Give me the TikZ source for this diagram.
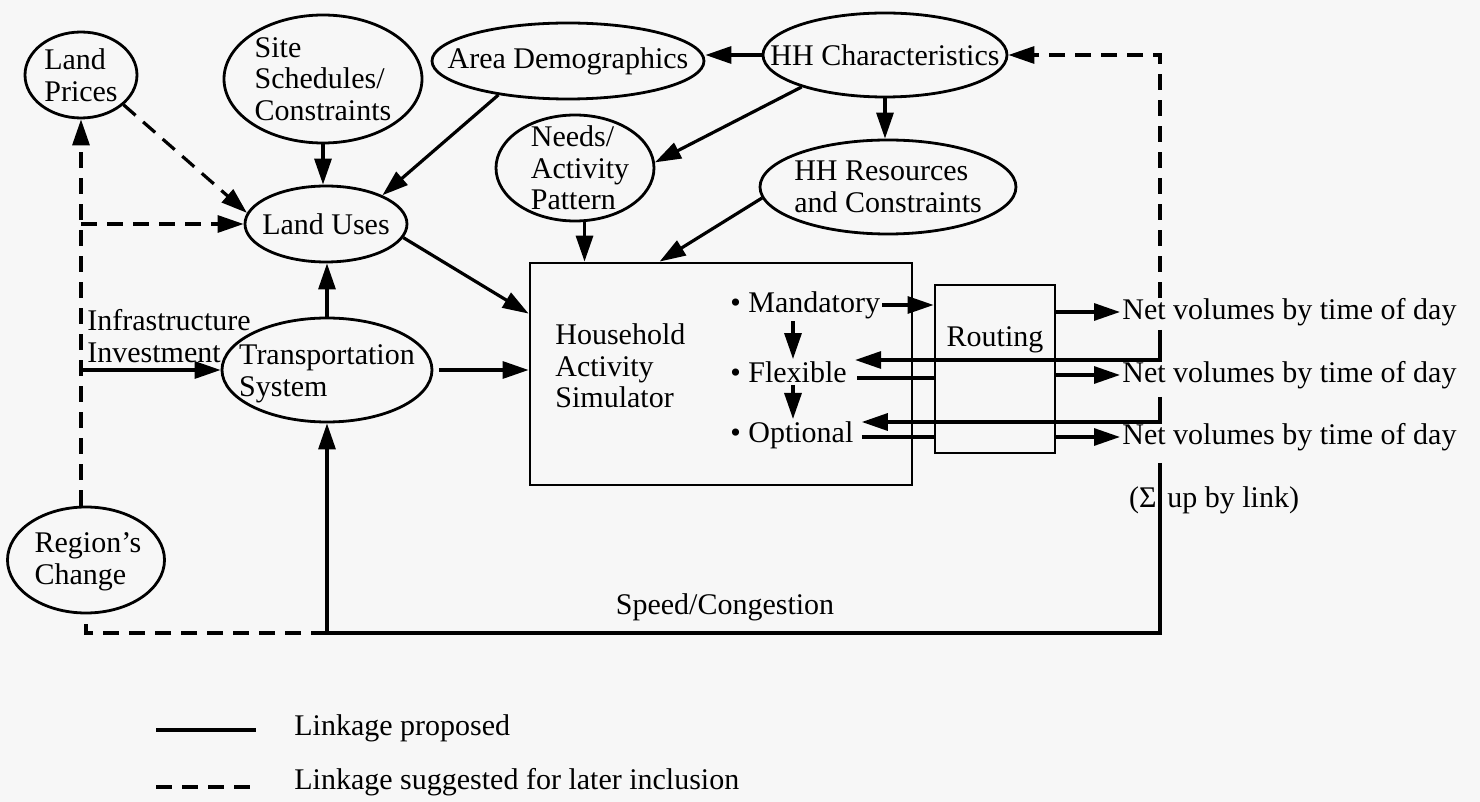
\documentclass[tikz,border=0pt]{standalone}
\usepackage{fontspec}
\setmainfont{Liberation Serif}
\usetikzlibrary{shapes.geometric,arrows.meta,calc}
\definecolor{paper}{RGB}{247,247,247}
\begin{document}
\begin{tikzpicture}[x=0.5pt,y=-0.5pt,
  every node/.style={font=\fontsize{15}{15.8}\selectfont},
  ell/.style={draw, ellipse, line width=1.4pt, inner sep=0pt},
  box/.style={draw, rectangle, line width=1.4pt, inner sep=0pt},
  txt/.style={inner sep=1pt, align=left},
  ln/.style={line width=1.6pt},
  arr/.style={ln, -{Triangle[length=13pt,width=8.5pt]}},
  dsh/.style={dash pattern=on 8pt off 5pt},
]
\fill[paper] (0,0) rectangle (1480,802);
\useasboundingbox (0,0) rectangle (1480,802);

% ellipses
\node[ell, minimum width=56pt, minimum height=43pt] (lp) at (81,75) {};
\node[txt] (lpt) at (lp) {Land\\Prices};
\node[ell, minimum width=99pt, minimum height=64pt] (ss) at (323,79) {};
\node[txt] (sst) at (ss) {Site\\Schedules/\\Constraints};
\node[ell, minimum width=136pt, minimum height=38pt] (ad) at (568,61) {};
\node[txt] (adt) at (ad) {Area Demographics};
\node[ell, minimum width=122pt, minimum height=42pt] (hh) at (885,55) {};
\node[txt] (hht) at (hh) {HH Characteristics};
\node[ell, minimum width=79pt, minimum height=53pt] (na) at (575,168) {};
\node[txt] (nat) at (580,168) {Needs/\\Activity\\Pattern};
\node[ell, minimum width=128pt, minimum height=47pt] (hr) at (888,187) {};
\node[txt] (hrt) at (hr) {HH Resources\\and Constraints};
\node[ell, minimum width=81pt, minimum height=38pt] (lu) at (326,224) {};
\node[txt] (lut) at (lu) {Land Uses};
\node[ell, minimum width=105pt, minimum height=52pt] (ts) at (327,370) {};
\node[txt] (tst) at (327,374) {Transportation\\System};
\node[ell, minimum width=78.5pt, minimum height=53pt] (rc) at (86,560) {};
\node[txt] (rct) at (88,562) {Region’s\\Change};

% boxes
\node[box, minimum width=191pt, minimum height=111pt] (sim) at (721,374) {};
\node[txt, anchor=west] (simt) at (553,366) {Household\\Activity\\Simulator};
\node[txt, anchor=west] (md) at (728,305) {\textbullet\ Mandatory};
\node[txt, anchor=west] (fx) at (728,372) {\textbullet\ Flexible};
\node[txt, anchor=west] (op) at (728,435) {\textbullet\ Optional};
\node[box, minimum width=60pt, minimum height=84pt] (rt) at (995,369) {};
\node[txt] (rtt) at (995,340) {Routing};

% output labels
\node[txt, anchor=west] (n1) at (1120,312) {Net volumes by time of day};
\node[txt, anchor=west] (n2) at (1120,375) {Net volumes by time of day};
\node[txt, anchor=west] (n3) at (1120,437) {Net volumes by time of day};
\node[txt, anchor=east] (sg1) at (1159,500) {(Σ};
\node[txt, anchor=west] (sg2) at (1165,500) {up by link)};
\node[txt, anchor=west] (inf) at (85,336) {Infrastructure\\Investment};
\node[txt] (spd) at (725,607) {Speed/Congestion};

% connectors
\draw[arr] (ss.south) -- (ss.south |- lu.north);
\draw[ln,dsh,arr] (lp.-35) -- (lu.172);
\draw[ln,dsh,arr] (rc.north -| lp.south) -- (lp.south);
\draw[ln,dsh,arr] (lu.west -| lp.south) -- (lu.west);
\draw[arr] (ts.west -| lp.south) -- (ts.west);
\draw[arr] (ad.206) -- (lu.27);
\draw[arr] (hh.west) -- (hh.west -| ad.east);
\draw[arr] (hh.south) -- (hh.south |- hr.north);
\draw[arr] (hh.201) -- (na.4);
\draw[arr] (na.-80) -- (na.-80 |- sim.north);
\draw[arr] (hr.185) -- ($(sim.north west)+(131,0)$);
\draw[arr] (lu.-10) -- ($(sim.north west)+(0,52)$);
\draw[arr, shorten <=3pt] (ts.east) -- (ts.east -| sim.west);
\draw[arr] (ts.north) -- (ts.north |- lu.south);

% activity chain
\coordinate (mdx) at (793,305);
\draw[arr] (md.south -| mdx) -- (fx.north -| mdx);
\draw[arr] (fx.south -| mdx) -- (op.north -| mdx);
\draw[arr] (md.east) -- (md.east -| rt.west);
\draw[ln, shorten <=4pt] ([yshift=-3pt]fx.east) -- ([yshift=-3pt]fx.east -| rt.west);
\draw[ln, shorten <=3pt] ([yshift=-1pt]op.east) -- ([yshift=-1pt]op.east -| rt.west);
\draw[arr] (rt.east |- n1.west) -- (n1.west);
\draw[arr] (rt.east |- n2.west) -- (n2.west);
\draw[arr] (rt.east |- n3.west) -- (n3.west);

% feedback
\coordinate (v0) at (1160,298);
\coordinate (v1) at (1160,330);
\coordinate (v2) at (1160,397);
\coordinate (v3) at (1160,463);
\coordinate (br) at (1160,633);
\coordinate (bl) at (ts.south |- br);
\draw[ln,dsh,arr] (v0) |- (hh.east);
\draw[arr, shorten >=3pt] (v1) |- ([yshift=6pt]fx.east);
\draw[arr, shorten >=3pt] (v2) |- ([yshift=6.5pt]op.east);
\draw[arr] (v3) -- (br) -- (bl) -- (ts.south);
\draw[ln,dsh] (bl) -- (bl -| rc.south) -- (rc.south);

% legend
\coordinate (l1a) at (156,730);
\coordinate (l1b) at (256,730);
\coordinate (l2a) at (156,787);
\coordinate (l2b) at (256,787);
\draw[ln] (l1a) -- (l1b);
\draw[ln,dsh] (l2a) -- (l2b);
\node[txt, anchor=west] (l1t) at (292,728) {Linkage proposed};
\node[txt, anchor=west] (l2t) at (292,782) {Linkage suggested for later inclusion};
\end{tikzpicture}
\end{document}
